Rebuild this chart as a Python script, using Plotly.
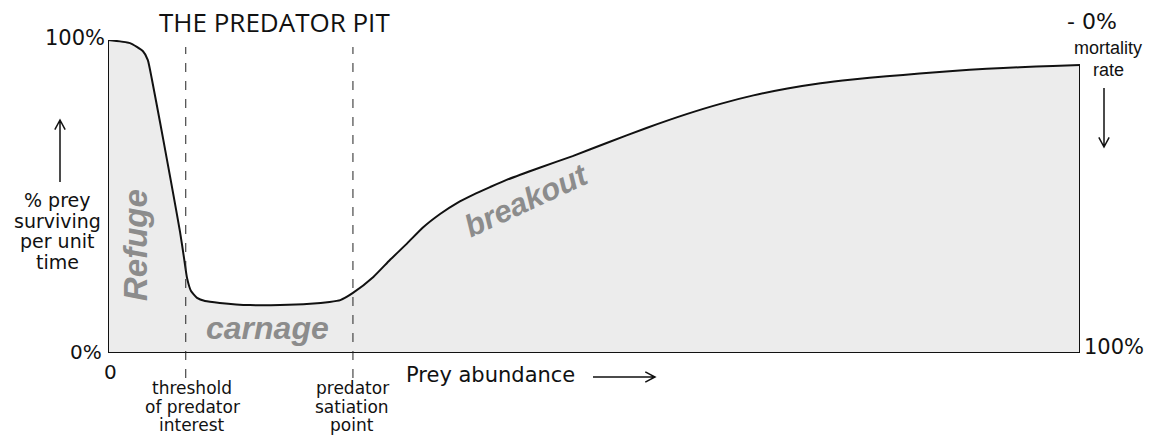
import math
import plotly.graph_objects as go

# ---- data (prey abundance %, prey surviving %) ----
abundance = [0, 2.26, 3.6, 4.1, 4.53, 5.35, 6.07, 6.79, 7.41, 7.82, 8.13, 8.54, 9.16, 9.98,
             11.5, 14.6, 17.7, 20.8, 22.8, 23.9, 25.2, 27.3, 29.0, 30.8, 32.4, 34.2, 35.9,
             37.6, 39.3, 41.0, 44.4, 47.8, 51.3, 55.4, 59.6, 63.0, 66.4, 69.9, 73.3, 76.6,
             80.1, 83.5, 86.9, 90.4, 93.8, 97.2, 100]
surviving = [100, 99.0, 96.4, 93.6, 87.2, 73.8, 61.7, 49.5, 38.7, 30.4, 24.0, 19.8, 17.6, 16.6,
             16.0, 15.3, 15.3, 15.7, 16.3, 16.9, 19.2, 24.3, 29.7, 35.1, 40.1, 44.5, 47.9,
             50.6, 53.0, 55.3, 59.2, 62.9, 67.1, 71.9, 76.4, 79.6, 82.3, 84.5, 86.2, 87.4,
             88.4, 89.3, 90.1, 90.8, 91.3, 91.7, 92.0]
markers_x = [8.0, 25.2]           # threshold of predator interest, predator satiation point
markers_text = [["threshold", "of predator", "interest"], ["predator", "satiation", "point"]]
y_label = ["% prey", "surviving", "per unit", "time"]

W, H = 1152, 437
L, R, T, B = 108, 1080, 40, 353

def px(x):
    return (x - L) / (R - L)

def py(y):
    return (B - y) / (B - T)

fig = go.Figure()
fig.add_trace(go.Scatter(x=abundance, y=surviving, mode="lines", fill="tozeroy",
                         fillcolor="#ececec",
                         line=dict(color="#111111", width=2, shape="spline", smoothing=0.5),
                         hoverinfo="skip"))
# frame edges
fig.add_trace(go.Scatter(x=[abundance[0], abundance[0], abundance[-1], abundance[-1]],
                         y=[surviving[0], 0, 0, surviving[-1]], mode="lines",
                         line=dict(color="#111111", width=2), hoverinfo="skip"))

shapes = []
for mx in markers_x:
    shapes.append(dict(type="line", xref="x", yref="paper", x0=mx, x1=mx, y0=py(378), y1=py(47),
                       line=dict(color="#222222", width=1, dash="dash")))

def arrow_path(x0, y0, x1, y1, head):
    ang = math.atan2(y1 - y0, x1 - x0)
    a1 = ang + math.radians(152)
    a2 = ang - math.radians(152)
    hx1, hy1 = x1 + head * math.cos(a1), y1 + head * math.sin(a1)
    hx2, hy2 = x1 + head * math.cos(a2), y1 + head * math.sin(a2)
    return (f"M {px(x0)},{py(y0)} L {px(x1)},{py(y1)} "
            f"M {px(hx1)},{py(hy1)} L {px(x1)},{py(y1)} L {px(hx2)},{py(hy2)}")

for a in [(60, 182, 60, 120), (593, 377, 655, 377), (1104, 88, 1104, 147)]:
    shapes.append(dict(type="path", xref="paper", yref="paper", path=arrow_path(*a, 11),
                       line=dict(color="#111111", width=1.5)))

ann = []
def text(x, y, s, size, family="DejaVu Sans", color="#111111", xanchor="center", angle=0):
    ann.append(dict(x=px(x), y=py(y), xref="paper", yref="paper", text=s, showarrow=False,
                    xanchor=xanchor, yanchor="middle", textangle=angle,
                    font=dict(size=size, family=family, color=color)))

text(157, 22, "THE PREDATOR PIT", 26, family="Open Sans", xanchor="left")
text(107, 38, "100%", 21, xanchor="right")
text(104, 352, "0%", 20, xanchor="right")
text(110, 372, "0", 20)
for i, line in enumerate(y_label):
    text(57, 200 + i * 20.7, line, 19)
text(1082, 347, "100%", 21, xanchor="left")
text(1092, 22, "- 0%", 22)
text(1108, 48, "mortality", 18, family="Liberation Sans")
text(1108, 70, "rate", 18, family="Liberation Sans")
text(490, 375, "Prey abundance", 21)
for mx_px, lines in zip([192, 352], markers_text):
    for i, line in enumerate(lines):
        text(mx_px, 388 + i * 18.5, line, 17)

gray = "#8c8c8c"
text(135, 245, "<b><i>Refuge</i></b>", 33, family="Liberation Sans", color=gray, angle=-90)
text(267, 328, "<b><i>carnage</i></b>", 32, family="Liberation Sans", color=gray)
text(526, 200, "<b><i>breakout</i></b>", 31, family="Liberation Sans", color=gray, angle=-25)

fig.update_layout(
    width=W, height=H, margin=dict(l=L, r=W - R, t=T, b=H - B),
    paper_bgcolor="white", plot_bgcolor="white", showlegend=False,
    xaxis=dict(range=[0, 100], visible=False, fixedrange=True),
    yaxis=dict(range=[0, 100], visible=False, fixedrange=True),
    shapes=shapes, annotations=ann,
)
fig.write_html("out.html", config={"displayModeBar": False},
               post_script="document.body.style.margin='0px';document.body.style.overflow='hidden';")
